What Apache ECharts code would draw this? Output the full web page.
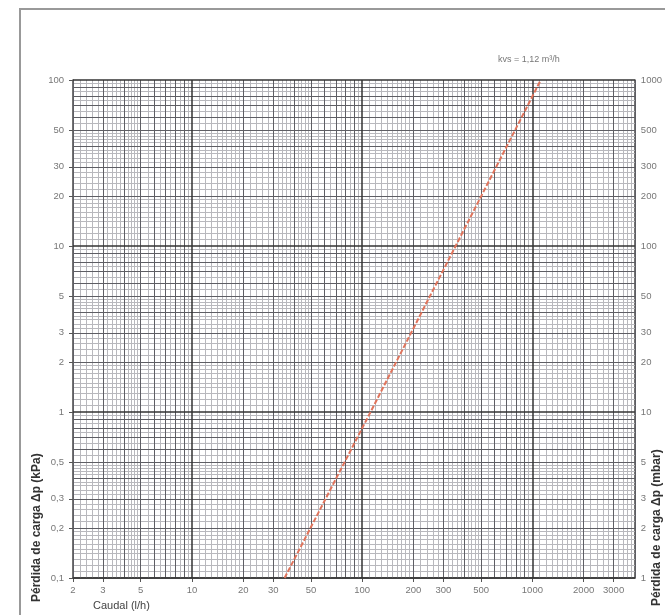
<!DOCTYPE html>
<html>
<head>
<meta charset="utf-8">
<script src="https://cdn.jsdelivr.net/npm/echarts@6/dist/echarts.min.js"></script>
<style>
  html, body { margin: 0; padding: 0; background: #fff; }
  #chart { width: 665px; height: 615px; }
</style>
</head>
<body>
<div id="chart"></div>
<script>
// tick labels
const xLabels = [2, 3, 5, 10, 20, 30, 50, 100, 200, 300, 500, 1000, 2000, 3000]
const yLabels = [0.1, 0.2, 0.3, 0.5, 1, 2, 3, 5, 10, 20, 30, 50, 100]
const yRightLabels = [1, 2, 3, 5, 10, 20, 30, 50, 100, 200, 300, 500, 1000]

// kvs line
const flow = [35, 112, 354, 1120]
const pressure = [0.1, 1, 10, 100]

// log paper lines
function paper (lo, hi) {
  const major = [], mid = [], fine = []
  for (let e = -2; e <= 4; e++) {
    const d = Math.pow(10, e)
    for (let m = 1; m < 10; m++) {
      const v = +(m * d).toPrecision(6)
      if (v >= lo && v <= hi) (m === 1 ? major : mid).push(v)
      const step = m < 2 ? 0.1 : (m < 5 ? 0.2 : 0.5)
      for (let f = m + step; f < m + 1 - 1e-6; f += step) {
        const w = +(f * d).toPrecision(6)
        if (w > lo && w < hi) fine.push(w)
      }
    }
  }
  return { major, mid, fine }
}
const gx = paper(2, 4000)
const gy = paper(0.1, 100)

function paperSeries (xs, ys, color, width) {
  return {
    type: 'line',
    data: [],
    silent: true,
    z: 1,
    markLine: {
      silent: true,
      animation: false,
      symbol: 'none',
      label: { show: false },
      lineStyle: { type: 'solid', color: color, width: width },
      data: xs.map(v => ({ xAxis: v })).concat(ys.map(v => ({ yAxis: v })))
    }
  }
}

const fmt = v => String(v).replace('.', ',')
const labelStyle = { color: '#777', fontSize: 9.5, fontFamily: 'Liberation Sans' }

const option = {
  animation: false,
  grid: { left: 73, right: 25, top: 80, bottom: 37 },
  xAxis: {
    type: 'log', logBase: 10, min: 2, max: 4000,
    axisLine: { show: true, lineStyle: { color: '#444', width: 1.5 } },
    axisTick: { show: true, customValues: xLabels, length: 4, lineStyle: { color: '#555' } },
    axisLabel: Object.assign({ customValues: xLabels, margin: 7, formatter: fmt }, labelStyle),
    splitLine: { show: false }
  },
  yAxis: [{
    type: 'log', logBase: 10, min: 0.1, max: 100,
    axisLine: { show: true, lineStyle: { color: '#444', width: 1.5 } },
    axisTick: { show: true, customValues: yLabels, length: 4, lineStyle: { color: '#555' } },
    axisLabel: Object.assign({ customValues: yLabels, margin: 9, formatter: fmt }, labelStyle),
    splitLine: { show: false }
  }, {
    type: 'log', logBase: 10, min: 1, max: 1000, position: 'right',
    axisLine: { show: true, lineStyle: { color: '#444', width: 1.5 } },
    axisTick: { show: false },
    axisLabel: Object.assign({ customValues: yRightLabels, margin: 6, formatter: fmt }, labelStyle),
    splitLine: { show: false }
  }],
  graphic: [
    { type: 'rect', shape: { x: 20, y: 9, width: 700, height: 700 }, style: { fill: 'none', stroke: '#999', lineWidth: 2 } },
    { type: 'text', x: 498, y: 60, style: { text: 'kvs = 1,12 m³/h', fill: '#777', fontSize: 9, fontFamily: 'Liberation Sans', verticalAlign: 'middle' } },
    { type: 'text', x: 93, y: 606, style: { text: 'Caudal (l/h)', fill: '#444', fontSize: 11, fontFamily: 'Liberation Sans', verticalAlign: 'middle' } },
    { type: 'text', x: 37, y: 602, rotation: Math.PI / 2, style: { text: 'Pérdida de carga Δp (kPa)', fill: '#333', fontSize: 12, fontWeight: 'bold', fontFamily: 'Liberation Sans', verticalAlign: 'middle' } },
    { type: 'text', x: 657, y: 606, rotation: Math.PI / 2, style: { text: 'Pérdida de carga Δp (mbar)', fill: '#333', fontSize: 12, fontWeight: 'bold', fontFamily: 'Liberation Sans', verticalAlign: 'middle' } }
  ],
  series: [
    paperSeries(gx.fine, gy.fine, '#b8b8bd', 1),
    paperSeries(gx.mid, gy.mid, '#5e5e64', 1),
    paperSeries(gx.major, gy.major, '#333', 1.5),
    {
      type: 'line',
      z: 5,
      symbol: 'none',
      data: flow.map((q, i) => [q, pressure[i]]),
      lineStyle: { color: '#e0745c', width: 2, type: [5, 2] }
    }
  ]
}

const chart = echarts.init(document.getElementById('chart'))
chart.setOption(option)
</script>
</body>
</html>
